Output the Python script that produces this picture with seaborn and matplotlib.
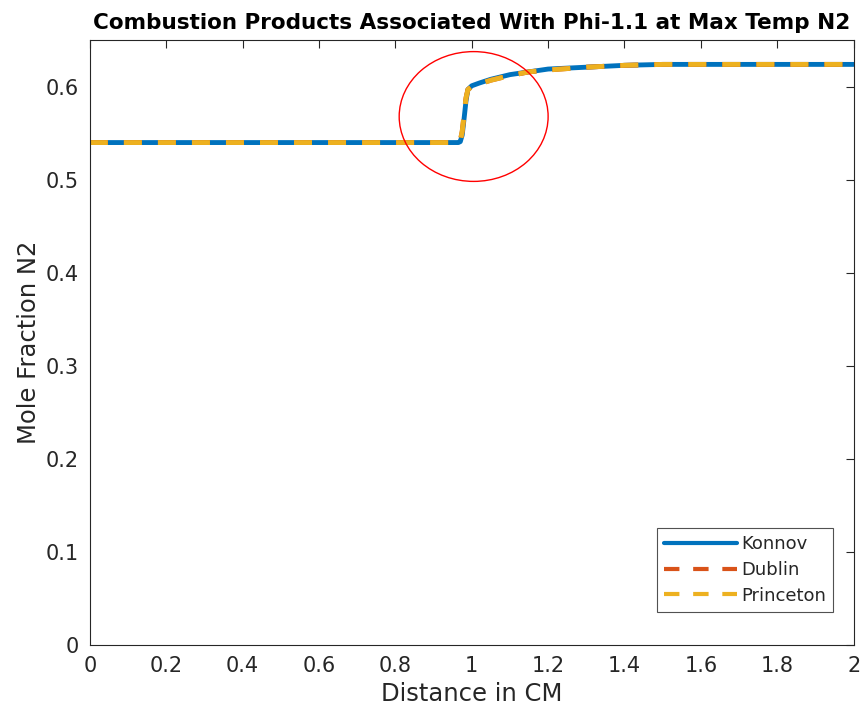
import numpy as np
import pandas as pd
import matplotlib
matplotlib.use("Agg")
import matplotlib.pyplot as plt
from matplotlib.patches import Ellipse
import seaborn as sns

# N2 mole fraction profile along the flame (distance in cm)
distance_cm = [0.0, 0.5, 0.95, 0.965, 0.97, 0.975, 0.98, 0.985, 0.99, 1.0,
               1.02, 1.05, 1.1, 1.15, 1.2, 1.3, 1.4, 1.5, 1.6, 1.8, 2.0]
konnov_n2 = [0.540, 0.540, 0.540, 0.540, 0.541, 0.548, 0.566, 0.585, 0.597, 0.601,
             0.604, 0.608, 0.613, 0.616, 0.619, 0.621, 0.623, 0.624, 0.624, 0.624, 0.624]
dublin_n2 = [0.540, 0.540, 0.540, 0.540, 0.542, 0.552, 0.570, 0.588, 0.597, 0.600,
             0.603, 0.607, 0.612, 0.616, 0.618, 0.621, 0.623, 0.624, 0.624, 0.624, 0.624]
princeton_n2 = [0.540, 0.540, 0.540, 0.540, 0.542, 0.552, 0.570, 0.588, 0.597, 0.600,
                0.603, 0.607, 0.612, 0.616, 0.618, 0.621, 0.623, 0.624, 0.624, 0.624, 0.624]

x_ticks = [0, 0.2, 0.4, 0.6, 0.8, 1, 1.2, 1.4, 1.6, 1.8, 2]
x_tick_labels = ["0", "0.2", "0.4", "0.6", "0.8", "1", "1.2", "1.4", "1.6", "1.8", "2"]
y_ticks = [0, 0.1, 0.2, 0.3, 0.4, 0.5, 0.6]
y_tick_labels = ["0", "0.1", "0.2", "0.3", "0.4", "0.5", "0.6"]

sns.set_style("white")
plt.rcParams["font.family"] = ["DejaVu Sans"]

fig = plt.figure(figsize=(8.64, 7.18), dpi=100)
ax = fig.add_axes([0.104, 0.1017, 0.884, 0.8423])

lw = 3.5
dash = (3.7, 3.3)
df = pd.DataFrame({"x": distance_cm, "k": konnov_n2, "d": dublin_n2, "p": princeton_n2})
sns.lineplot(data=df, x="x", y="k", ax=ax, color="#0072BD", lw=lw, label="Konnov", sort=False)
sns.lineplot(data=df, x="x", y="d", ax=ax, color="#D95319", lw=lw, label="Dublin",
             sort=False).lines[-1].set_dashes(dash)
sns.lineplot(data=df, x="x", y="p", ax=ax, color="#EDB120", lw=lw, label="Princeton",
             sort=False).lines[-1].set_dashes(dash)

ax.set_xlim(0, 2)
ax.set_ylim(0, 0.65)
ax.set_xticks(x_ticks)
ax.set_xticklabels(x_tick_labels)
ax.set_yticks(y_ticks)
ax.set_yticklabels(y_tick_labels)

ax.tick_params(direction="in", length=6, width=0.8, colors="#262626",
               labelsize=15, top=True, right=True, pad=8)
for lab in ax.get_xticklabels() + ax.get_yticklabels():
    lab.set_color("#262626")
for sp in ax.spines.values():
    sp.set_color("#262626")
    sp.set_linewidth(0.8)

ax.set_xlabel("Distance in CM", fontsize=17.5, color="#262626", labelpad=4)
ax.set_ylabel("Mole Fraction N2", fontsize=17.5, color="#262626", labelpad=3)
ax.set_title("Combustion Products Associated With Phi-1.1 at Max Temp N2",
             fontsize=15.5, fontweight="bold", color="black", pad=8)

# highlight the jump at the flame front
ax.add_patch(Ellipse((1.005, 0.568), 0.39, 0.1395, fill=False,
                     edgecolor="red", lw=1.0, zorder=5))

leg = ax.legend(loc="lower right", fontsize=13, frameon=True, fancybox=False,
                edgecolor="#262626", handlelength=4.0, borderpad=0.4,
                labelspacing=0.42, handletextpad=0.25,
                bbox_to_anchor=(0.985, 0.04))
leg.get_frame().set_linewidth(0.8)
for h in leg.get_lines():
    h.set_linewidth(3.0)

fig.savefig("out.png", dpi=100)
